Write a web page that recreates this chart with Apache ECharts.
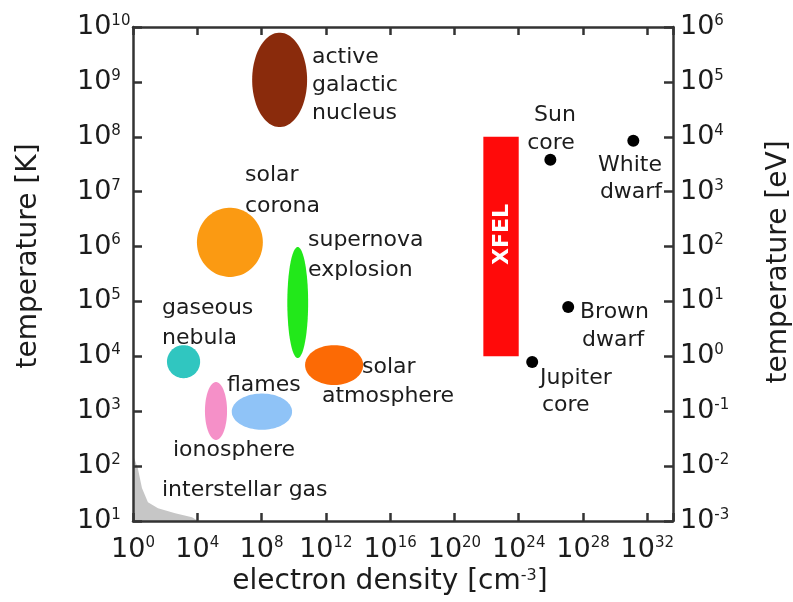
<!DOCTYPE html>
<html><head><meta charset="utf-8">
<script src="https://cdn.jsdelivr.net/npm/echarts@6/dist/echarts.min.js"></script>
<style>html,body{margin:0;padding:0;background:#fff}#c{width:793px;height:602px}</style>
</head><body><div id="c"></div>
<script>
// ---------- data ----------
const regionNames = ['active galactic nucleus','solar corona','supernova explosion','gaseous nebula','ionosphere','flames','solar atmosphere'];
const regionDensityMin = [2.6e7, 9.5e3, 4.0e9, 1.3e2, 3.0e4, 1.4e6, 5.1e10];
const regionDensityMax = [6.8e10, 1.2e8, 7.9e10, 1.5e4, 7.1e5, 7.9e9, 2.1e14];
const regionTempMin = [1.5e8, 2.8e5, 9.3e3, 4.0e3, 3.0e2, 4.6e2, 3.0e3];
const regionTempMax = [7.9e9, 5.1e6, 9.8e5, 1.6e4, 3.4e3, 2.1e3, 1.6e4];
const regionColors = ['#8a2b0c','#fb9a12','#22e81a','#30c6c0','#f590c8','#8fc3f7','#fc6a05'];

const xfelDensity = [6.3e21, 1e24];
const xfelTemp = [1e4, 1e8];

const objectNames = ['Sun core','White dwarf','Brown dwarf','Jupiter core'];
const objectDensity = [9.3e25, 1.35e31, 1.2e27, 6.9e24];
const objectTemp = [3.8e7, 8.5e7, 7.9e4, 7.9e3];

const gasDensity = [1, 2.0, 3.6, 8.5, 36, 420, 4.7e3, 1.12e4];
const gasTemp = [160, 91, 40, 22, 17, 13.8, 11.7, 10];

const xTickExponents = [0, 4, 8, 12, 16, 20, 24, 28, 32];
const yTickExponents = [1, 2, 3, 4, 5, 6, 7, 8, 9, 10];
const eVTickExponents = [-3, -2, -1, 0, 1, 2, 3, 4, 5, 6];

// ---------- style ----------
const FONT = 'DejaVu Sans';
const TXT = '#1c1c1c';
const AX = '#333';

function expLabel(list) {
  return function (v) {
    const L = Math.log10(v);
    const e = Math.round(L);
    if (Math.abs(L - e) > 1e-6 || list.indexOf(e) < 0) return '';
    return '{b|10}{s|' + e + '}';
  };
}
const tickRich = {
  b: { fontSize: 27, fontFamily: FONT, color: TXT, lineHeight: 27 },
  s: { fontSize: 15, fontFamily: FONT, color: TXT, lineHeight: 8, verticalAlign: 'top' }
};
const axisLineStyle = { show: true, lineStyle: { color: AX, width: 2.5 } };

const labels = [
  ['active', 312, 57, 'left'], ['galactic', 312, 85, 'left'], ['nucleus', 312, 113, 'left'],
  ['solar', 245, 175, 'left'], ['corona', 245, 206, 'left'],
  ['supernova', 308, 240, 'left'], ['explosion', 308, 270, 'left'],
  ['gaseous', 162, 308, 'left'], ['nebula', 162, 338, 'left'],
  ['flames', 227, 385, 'left'],
  ['solar', 362, 367, 'left'], ['atmosphere', 322, 396, 'left'],
  ['ionosphere', 173, 450, 'left'],
  ['interstellar gas', 162, 490, 'left'],
  ['Sun', 555, 115, 'center'], ['core', 551, 143, 'center'],
  ['White', 630, 165, 'center'], ['dwarf', 631, 192, 'center'],
  ['Brown', 580, 312, 'left'], ['dwarf', 582, 340, 'left'],
  ['Jupiter', 540, 378, 'left'], ['core', 542, 405, 'left']
];

const chart = echarts.init(document.getElementById('c'), null, { renderer: 'canvas' });

const regionData = regionNames.map((n, i) => ({
  name: n, value: [regionDensityMin[i], regionDensityMax[i], regionTempMin[i], regionTempMax[i]]
}));

chart.setOption({
  backgroundColor: '#fff',
  animation: false,
  grid: { left: 133, top: 27, width: 540, height: 494, show: false, outerBoundsMode: 'none' },
  xAxis: [{
    type: 'log', logBase: 10000, min: 1, max: 3.98e33, position: 'bottom', z: 10,
    axisLine: axisLineStyle,
    axisTick: { show: true, inside: true, length: 8, lineStyle: { color: AX, width: 2.5 } },
    splitLine: { show: false },
    axisLabel: { formatter: expLabel(xTickExponents), rich: tickRich, margin: 15, hideOverlap: false },
    name: 'electron density [cm{s|-3}]', nameLocation: 'middle', nameGap: 44,
    nameTextStyle: {
      fontSize: 28, fontFamily: FONT, color: TXT, padding: [0, 26, 0, 0],
      rich: { s: { fontSize: 16, fontFamily: FONT, color: TXT, lineHeight: 8, verticalAlign: 'top' } }
    }
  }, {
    type: 'log', logBase: 10000, min: 1, max: 3.98e33, position: 'top', z: 10,
    axisLine: axisLineStyle,
    axisTick: { show: true, inside: true, length: 8, lineStyle: { color: AX, width: 2.5 } },
    splitLine: { show: false }, axisLabel: { show: false }
  }],
  yAxis: [{
    type: 'log', logBase: 10, min: 10, max: 1e10, position: 'left', z: 10,
    axisLine: axisLineStyle,
    axisTick: { show: true, inside: true, length: 9, lineStyle: { color: AX, width: 2.5 } },
    splitLine: { show: false },
    axisLabel: { formatter: expLabel(yTickExponents), rich: tickRich, margin: 56, align: 'left' },
    name: 'temperature [K]', nameLocation: 'middle', nameRotate: 90, nameGap: 90,
    nameTextStyle: { fontSize: 28, fontFamily: FONT, color: TXT, padding: [0, 0, 0, 36] }
  }, {
    type: 'log', logBase: 10, min: 1e-3, max: 1e6, position: 'right', z: 10,
    axisLine: axisLineStyle,
    axisTick: { show: true, inside: true, length: 9, lineStyle: { color: AX, width: 2.5 } },
    splitLine: { show: false },
    axisLabel: { formatter: expLabel(eVTickExponents), rich: tickRich, margin: 7, align: 'left' },
    name: 'temperature [eV]', nameLocation: 'middle', nameRotate: 90, nameGap: 92,
    nameTextStyle: { fontSize: 28, fontFamily: FONT, color: TXT, padding: [0, 0, 0, 24] }
  }],
  series: [{
    name: 'interstellar gas', type: 'line', xAxisIndex: 0, yAxisIndex: 0, z: 1,
    data: gasDensity.map((d, i) => [d, gasTemp[i]]),
    symbol: 'none',
    lineStyle: { width: 0 },
    areaStyle: { color: '#c6c6c6', opacity: 1, origin: 'start' }
  }, {
    name: 'regions', type: 'custom', xAxisIndex: 0, yAxisIndex: 0, z: 2,
    encode: { x: [0, 1], y: [2, 3] },
    data: regionData,
    renderItem: function (params, api) {
      const p1 = api.coord([api.value(0), api.value(2)]);
      const p2 = api.coord([api.value(1), api.value(3)]);
      const cx = (p1[0] + p2[0]) / 2, cy = (p1[1] + p2[1]) / 2;
      const rx = Math.abs(p2[0] - p1[0]) / 2, ry = Math.abs(p2[1] - p1[1]) / 2;
      const pts = [];
      for (let k = 0; k < 90; k++) {
        const a = k / 90 * Math.PI * 2;
        pts.push([cx + rx * Math.cos(a), cy + ry * Math.sin(a)]);
      }
      return { type: 'polygon', shape: { points: pts }, style: { fill: regionColors[params.dataIndex] } };
    }
  }, {
    name: 'XFEL', type: 'custom', xAxisIndex: 0, yAxisIndex: 0, z: 3,
    encode: { x: [0, 1], y: [2, 3] },
    data: [[xfelDensity[0], xfelDensity[1], xfelTemp[0], xfelTemp[1]]],
    renderItem: function (params, api) {
      const p1 = api.coord([api.value(0), api.value(2)]);
      const p2 = api.coord([api.value(1), api.value(3)]);
      const x = Math.min(p1[0], p2[0]), y = Math.min(p1[1], p2[1]);
      const w = Math.abs(p2[0] - p1[0]), h = Math.abs(p2[1] - p1[1]);
      return {
        type: 'group', children: [
          { type: 'rect', shape: { x: x, y: y, width: w, height: h }, style: { fill: '#ff0a0a' } },
          { type: 'text', x: x + w / 2 + 1, y: y + h / 2 - 12, rotation: Math.PI / 2,
            style: { text: 'XFEL', fill: '#fff', font: 'bold 22px "DejaVu Sans"', align: 'center', verticalAlign: 'middle' } }
        ]
      };
    }
  }, {
    name: 'objects', type: 'scatter', xAxisIndex: 0, yAxisIndex: 0, z: 4,
    symbol: 'circle', symbolSize: 12,
    itemStyle: { color: '#000', opacity: 1 },
    data: objectNames.map((n, i) => ({ name: n, value: [objectDensity[i], objectTemp[i]] }))
  }],
  graphic: labels.map(l => ({
    type: 'text', x: l[1], y: l[2], z: 50,
    style: { text: l[0], fill: TXT, font: '22px "DejaVu Sans"', align: l[3], verticalAlign: 'middle' }
  }))
});
</script></body></html>
